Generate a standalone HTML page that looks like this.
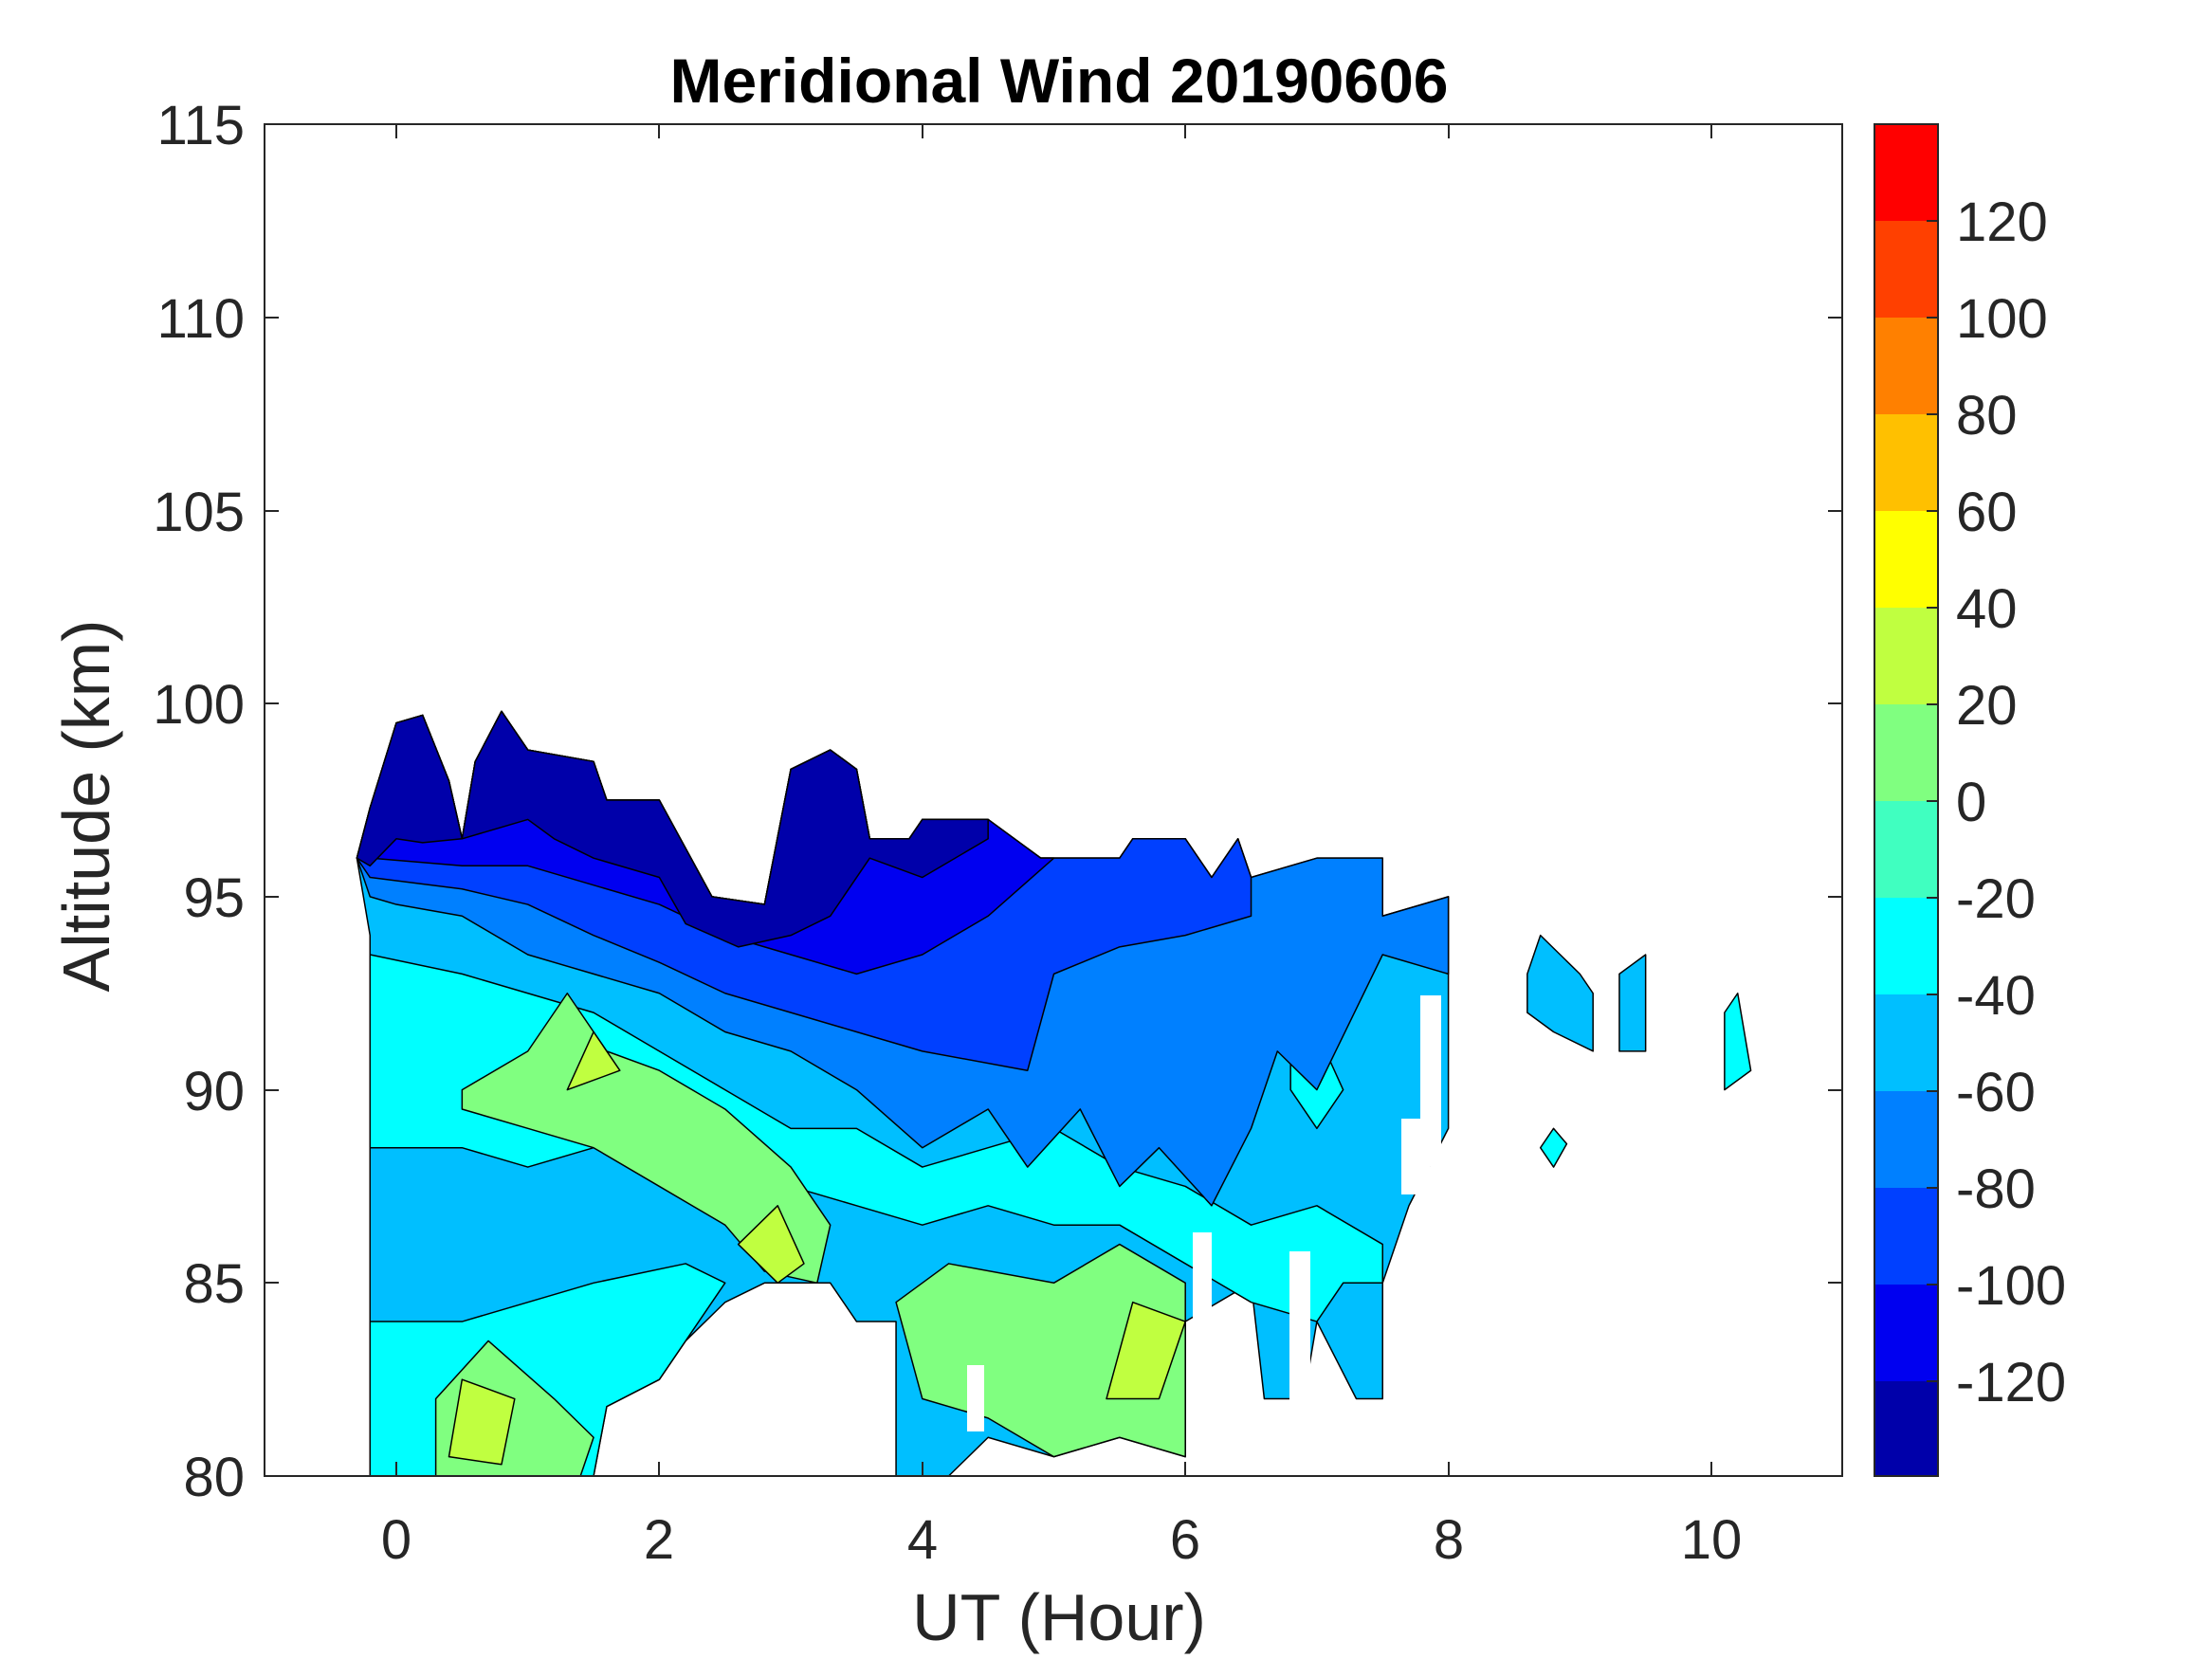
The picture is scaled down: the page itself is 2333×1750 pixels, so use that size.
<!DOCTYPE html>
<html><head><style>
html,body{margin:0;padding:0;background:#fff;}
svg{display:block;font-family:"Liberation Sans",Arial,sans-serif;}
</style></head><body>
<svg width="2333" height="1750" viewBox="0 0 2333 1750" xmlns="http://www.w3.org/2000/svg">
<rect width="2333" height="1750" fill="#fff"/>
<g transform="matrix(138.7,0,0,-40.74,418,4816.2)" stroke="#000" stroke-width="1.5" stroke-linejoin="round">
<polygon vector-effect="non-scaling-stroke" fill="#00bfff" points="-0.3,96 -0.2,97.3 0,99.5 0.2,99.7 0.4,98 0.5,96.5 0.6,98.5 0.8,99.8 1,98.8 1.5,98.5 1.6,97.5 2,97.5 2.4,95 2.8,94.8 3,98.3 3.3,98.8 3.5,98.3 3.6,96.5 3.9,96.5 4,97 4.5,97 4.9,96 5.5,96 5.6,96.5 6,96.5 6.2,95.5 6.4,96.5 6.5,95.5 7,96 7.5,96 7.5,94.5 8,95 8,89 7.7,87 7.5,85 7.5,82 7.3,82 7,84 6.9,82 6.6,82 6.5,85 6,84 6,80.5 5.5,81 5,80.5 4.5,81 4.2,80 3.8,80 3.8,84 3.5,84 3.3,85 2.8,85 2.5,84.5 2.2,83.5 2,82.5 1.6,81.8 1.5,80 -0.2,80 -0.2,94"/>
<polygon vector-effect="non-scaling-stroke" fill="#00ffff" points="-0.2,93.5 0.5,93 1,92.5 1.5,92 2,91 2.5,90 3,89 3.5,89 4,88 4.5,88.5 5,89 5.5,88 6,87.5 6.5,86.5 7,87 7.5,86 7.5,85 7.2,85 7,84 6.5,84.5 6,85.5 5.5,86.5 5,86.5 4.5,87 4,86.5 3.5,87 3,87.5 2.5,88 2,88.5 1.5,88.5 1,88 0.5,88.5 -0.2,88.5"/>
<polygon vector-effect="non-scaling-stroke" fill="#00ffff" points="-0.2,84 0.5,84 1.5,85 2.2,85.5 2.5,85 2.2,83.5 2,82.5 1.6,81.8 1.5,80 -0.2,80"/>
<polygon vector-effect="non-scaling-stroke" fill="#00ffff" points="6.8,92 7,91.5 7.2,90 7,89 6.8,90"/>
<polygon vector-effect="non-scaling-stroke" fill="#80ff80" points="0.5,90 1,91 1.3,92.5 1.6,91 2,90.5 2.5,89.5 3,88 3.3,86.5 3.2,85 2.8,85.3 2.5,86.5 2,87.5 1.5,88.5 1,89 0.5,89.5"/>
<polygon vector-effect="non-scaling-stroke" fill="#80ff80" points="3.8,84.5 4.2,85.5 5,85 5.5,86 6,85 6,80.5 5.5,81 5,80.5 4.5,81.5 4,82"/>
<polygon vector-effect="non-scaling-stroke" fill="#80ff80" points="0.3,80 0.3,82 0.7,83.5 1.2,82 1.5,81 1.4,80"/>
<polygon vector-effect="non-scaling-stroke" fill="#c0ff40" points="0.4,80.5 0.5,82.5 0.9,82 0.8,80.3"/>
<polygon vector-effect="non-scaling-stroke" fill="#c0ff40" points="2.6,86 2.9,87 3.1,85.5 2.9,85"/>
<polygon vector-effect="non-scaling-stroke" fill="#c0ff40" points="5.4,82 5.6,84.5 6,84 5.8,82"/>
<polygon vector-effect="non-scaling-stroke" fill="#c0ff40" points="1.3,90 1.5,91.5 1.7,90.5"/>
<polygon vector-effect="non-scaling-stroke" fill="#0080ff" points="-0.3,96 -0.2,97.3 0,99.5 0.2,99.7 0.4,98 0.5,96.5 0.6,98.5 0.8,99.8 1,98.8 1.5,98.5 1.6,97.5 2,97.5 2.4,95 2.8,94.8 3,98.3 3.3,98.8 3.5,98.3 3.6,96.5 3.9,96.5 4,97 4.5,97 4.9,96 5.5,96 5.6,96.5 6,96.5 6.2,95.5 6.4,96.5 6.5,95.5 7,96 7.5,96 7.5,94.5 8,95 8,93 7.5,93.5 7,90 6.7,91 6.5,89 6.2,87 5.8,88.5 5.5,87.5 5.2,89.5 4.8,88 4.5,89.5 4,88.5 3.5,90 3,91 2.5,91.5 2,92.5 1.5,93 1,93.5 0.5,94.5 0,94.8 -0.2,95"/>
<polygon vector-effect="non-scaling-stroke" fill="#0040ff" points="-0.3,96 -0.2,97.3 0,99.5 0.2,99.7 0.4,98 0.5,96.5 0.6,98.5 0.8,99.8 1,98.8 1.5,98.5 1.6,97.5 2,97.5 2.4,95 2.8,94.8 3,98.3 3.3,98.8 3.5,98.3 3.6,96.5 3.9,96.5 4,97 4.5,97 4.9,96 5.5,96 5.6,96.5 6,96.5 6.2,95.5 6.4,96.5 6.5,95.5 6.5,94.5 6,94 5.5,93.7 5,93 4.8,90.5 4,91 3.5,91.5 3,92 2.5,92.5 2,93.3 1.5,94 1,94.8 0.5,95.2 -0.2,95.5"/>
<polygon vector-effect="non-scaling-stroke" fill="#0000f0" points="-0.3,96 -0.2,97.3 0,99.5 0.2,99.7 0.4,98 0.5,96.5 0.6,98.5 0.8,99.8 1,98.8 1.5,98.5 1.6,97.5 2,97.5 2.4,95 2.8,94.8 3,98.3 3.3,98.8 3.5,98.3 3.6,96.5 3.9,96.5 4,97 4.5,97 4.9,96 5,96 4.5,94.5 4,93.5 3.5,93 3,93.5 2.5,94 2,94.8 1.5,95.3 1,95.8 0.5,95.8 -0.2,96"/>
<polygon vector-effect="non-scaling-stroke" fill="#0000aa" points="-0.3,96 -0.2,97.3 0,99.5 0.2,99.7 0.4,98 0.5,96.5 0.6,98.5 0.8,99.8 1,98.8 1.5,98.5 1.6,97.5 2,97.5 2.4,95 2.8,94.8 3,98.3 3.3,98.8 3.5,98.3 3.6,96.5 3.9,96.5 4,97 4.5,97 4.5,96.5 4,95.5 3.6,96 3.3,94.5 3,94 2.6,93.7 2.2,94.3 2,95.5 1.5,96 1.2,96.5 1,97 0.5,96.5 0.2,96.4 0,96.5 -0.2,95.8"/>
<polygon vector-effect="non-scaling-stroke" fill="#00bfff" points="8.6,93 8.7,94 9,93 9.1,92.5 9.1,91 8.8,91.5 8.6,92"/>
<polygon vector-effect="non-scaling-stroke" fill="#00bfff" points="9.3,93 9.5,93.5 9.5,91 9.3,91"/>
<polygon vector-effect="non-scaling-stroke" fill="#00ffff" points="10.1,92 10.2,92.5 10.3,90.5 10.1,90"/>
<polygon vector-effect="non-scaling-stroke" fill="#00ffff" points="8.7,88.5 8.8,89 8.9,88.6 8.8,88"/>
</g>
<!-- white gaps -->
<g fill="#fff">
<rect x="1498" y="1050" width="22" height="180"/>
<rect x="1478" y="1180" width="30" height="80"/>
<rect x="1258" y="1300" width="20" height="240"/>
<rect x="1360" y="1320" width="22" height="180"/>
<rect x="1020" y="1440" width="18" height="70"/>
</g>
<rect x="279" y="131" width="1664" height="1426" fill="none" stroke="#262626" stroke-width="2"/>
<g stroke="#262626" stroke-width="2">
<line x1="418" y1="1557" x2="418" y2="1542"/><line x1="695" y1="1557" x2="695" y2="1542"/><line x1="973" y1="1557" x2="973" y2="1542"/><line x1="1250" y1="1557" x2="1250" y2="1542"/><line x1="1528" y1="1557" x2="1528" y2="1542"/><line x1="1805" y1="1557" x2="1805" y2="1542"/>
<line x1="418" y1="131" x2="418" y2="146"/><line x1="695" y1="131" x2="695" y2="146"/><line x1="973" y1="131" x2="973" y2="146"/><line x1="1250" y1="131" x2="1250" y2="146"/><line x1="1528" y1="131" x2="1528" y2="146"/><line x1="1805" y1="131" x2="1805" y2="146"/>
<line x1="279" y1="335" x2="294" y2="335"/><line x1="279" y1="539" x2="294" y2="539"/><line x1="279" y1="742" x2="294" y2="742"/><line x1="279" y1="946" x2="294" y2="946"/><line x1="279" y1="1150" x2="294" y2="1150"/><line x1="279" y1="1353" x2="294" y2="1353"/>
<line x1="1943" y1="335" x2="1928" y2="335"/><line x1="1943" y1="539" x2="1928" y2="539"/><line x1="1943" y1="742" x2="1928" y2="742"/><line x1="1943" y1="946" x2="1928" y2="946"/><line x1="1943" y1="1150" x2="1928" y2="1150"/><line x1="1943" y1="1353" x2="1928" y2="1353"/>
</g>
<g font-size="58" fill="#262626" text-anchor="end">
<text x="258" y="152">115</text><text x="258" y="356">110</text><text x="258" y="560">105</text><text x="258" y="763">100</text><text x="258" y="967">95</text><text x="258" y="1171">90</text><text x="258" y="1374">85</text><text x="258" y="1578">80</text>
</g>
<g font-size="58" fill="#262626" text-anchor="middle">
<text x="418" y="1644">0</text><text x="695" y="1644">2</text><text x="973" y="1644">4</text><text x="1250" y="1644">6</text><text x="1528" y="1644">8</text><text x="1805" y="1644">10</text>
</g>
<text x="1117" y="108" font-size="66" font-weight="bold" text-anchor="middle" fill="#000">Meridional Wind 20190606</text>
<text x="1117" y="1730" font-size="70" text-anchor="middle" fill="#262626">UT (Hour)</text>
<text transform="translate(115,850) rotate(-90)" font-size="70" text-anchor="middle" fill="#262626">Altitude (km)</text>
<g>
<rect x="1977" y="131" width="67" height="102" fill="#ff0000"/>
<rect x="1977" y="233" width="67" height="102" fill="#ff4000"/>
<rect x="1977" y="335" width="67" height="102" fill="#ff8000"/>
<rect x="1977" y="437" width="67" height="102" fill="#ffc000"/>
<rect x="1977" y="539" width="67" height="102" fill="#ffff00"/>
<rect x="1977" y="641" width="67" height="102" fill="#c0ff40"/>
<rect x="1977" y="743" width="67" height="102" fill="#80ff80"/>
<rect x="1977" y="845" width="67" height="102" fill="#40ffc0"/>
<rect x="1977" y="947" width="67" height="102" fill="#00ffff"/>
<rect x="1977" y="1049" width="67" height="102" fill="#00bfff"/>
<rect x="1977" y="1151" width="67" height="102" fill="#0080ff"/>
<rect x="1977" y="1253" width="67" height="102" fill="#0040ff"/>
<rect x="1977" y="1355" width="67" height="102" fill="#0000f0"/>
<rect x="1977" y="1457" width="67" height="100" fill="#0000aa"/>
<rect x="1977" y="131" width="67" height="1426" fill="none" stroke="#262626" stroke-width="2"/>
<g stroke="#262626" stroke-width="2">
<line x1="2032" y1="233" x2="2044" y2="233"/><line x1="2032" y1="335" x2="2044" y2="335"/><line x1="2032" y1="437" x2="2044" y2="437"/><line x1="2032" y1="539" x2="2044" y2="539"/><line x1="2032" y1="641" x2="2044" y2="641"/><line x1="2032" y1="743" x2="2044" y2="743"/><line x1="2032" y1="845" x2="2044" y2="845"/><line x1="2032" y1="947" x2="2044" y2="947"/><line x1="2032" y1="1049" x2="2044" y2="1049"/><line x1="2032" y1="1151" x2="2044" y2="1151"/><line x1="2032" y1="1253" x2="2044" y2="1253"/><line x1="2032" y1="1355" x2="2044" y2="1355"/><line x1="2032" y1="1457" x2="2044" y2="1457"/>
</g>
<g font-size="58" fill="#262626">
<text x="2063" y="254">120</text><text x="2063" y="356">100</text><text x="2063" y="458">80</text><text x="2063" y="560">60</text><text x="2063" y="662">40</text><text x="2063" y="764">20</text><text x="2063" y="866">0</text><text x="2063" y="968">-20</text><text x="2063" y="1070">-40</text><text x="2063" y="1172">-60</text><text x="2063" y="1274">-80</text><text x="2063" y="1376">-100</text><text x="2063" y="1478">-120</text>
</g>
</g>
</svg>
</body></html>
